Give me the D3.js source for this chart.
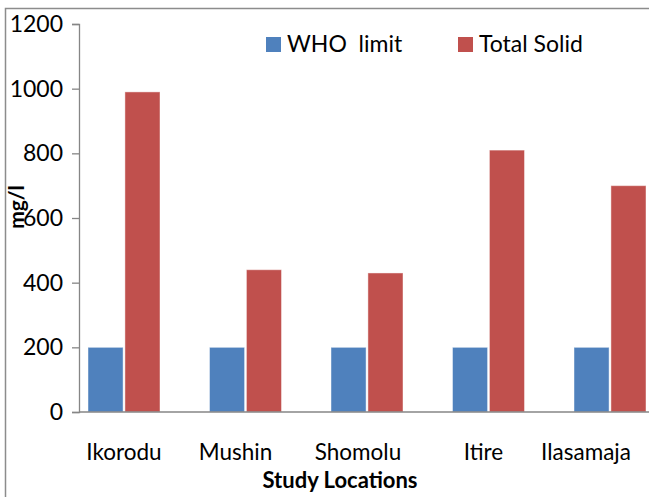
<!DOCTYPE html>
<html>
<head>
<meta charset="utf-8">
<script src="https://cdn.jsdelivr.net/npm/d3@7/dist/d3.min.js"></script>
<style>
  html, body { margin: 0; padding: 0; background: #fff; }
  svg { display: block; font-family: Lato, "Open Sans", sans-serif; }
</style>
</head>
<body>
<svg id="chart" width="649" height="497"></svg>
<script>
// Study locations and measured solids (mg/l)
const locations = ["Ikorodu", "Mushin", "Shomolu", "Itire", "Ilasamaja"];
const seriesNames = ["WHO  limit", "Total Solid"];
const whoLimit = [200, 200, 200, 200, 200];
const totalSolid = [990, 440, 430, 810, 700];
const yTicks = [0, 200, 400, 600, 800, 1000, 1200];

const colors = { "WHO  limit": "#4F81BD", "Total Solid": "#C0504D" };

const svg = d3.select("#chart");

// outer chart frame
svg.append("rect")
  .attr("x", 5.5).attr("y", 8.5)
  .attr("width", 700).attr("height", 600)
  .attr("fill", "none").attr("stroke", "#8c8c8c").attr("stroke-width", 1.5);

const yAxisX = 79;
const y = d3.scaleLinear().domain([0, 1200]).range([412, 24]);

const x = d3.scaleBand().domain(locations).range([63.25, 670.75]).paddingInner(0);
const xSub = d3.scaleBand().domain(seriesNames).range([-36, 36]).paddingInner(0.05);

const rows = locations.map((loc, i) => ({
  loc,
  values: [
    { key: seriesNames[0], value: whoLimit[i] },
    { key: seriesNames[1], value: totalSolid[i] }
  ]
}));

// bars
const groups = svg.append("g").selectAll("g").data(rows).join("g")
  .attr("transform", d => `translate(${x(d.loc) + x.bandwidth() / 2},0)`);
groups.selectAll("rect").data(d => d.values).join("rect")
  .attr("x", d => xSub(d.key))
  .attr("width", xSub.bandwidth())
  .attr("y", d => y(d.value))
  .attr("height", d => y(0) - y(d.value))
  .attr("fill", d => colors[d.key])
  .attr("stroke", "rgba(255,255,255,0.45)")
  .attr("stroke-width", 1);

// y axis
const yAxis = svg.append("g")
  .attr("transform", `translate(${yAxisX},0)`)
  .call(d3.axisLeft(y).tickValues(yTicks).tickSize(7).tickPadding(9).tickFormat(d3.format("d")));
yAxis.select(".domain").attr("stroke", "#868686").attr("stroke-width", 1.3);
yAxis.selectAll(".tick line").attr("stroke", "#868686").attr("stroke-width", 1.3);
yAxis.selectAll(".tick text")
  .attr("fill", "#000").style("font-size", "23px").style("font-family", "Lato, sans-serif");

// x axis: baseline plus category labels
const xAxis = svg.append("g")
  .attr("transform", `translate(0,${y(0)})`)
  .call(d3.axisBottom(x).tickSize(0).tickPadding(32));
xAxis.select(".domain").remove();
svg.append("line")
  .attr("x1", yAxisX).attr("x2", 649)
  .attr("y1", y(0)).attr("y2", y(0))
  .attr("stroke", "#868686").attr("stroke-width", 1.3);
// labels kept inside the frame near the right edge
const labelShift = [0, -10, -9, -5, -24];
xAxis.selectAll(".tick text")
  .attr("fill", "#000").style("font-size", "22.5px").style("font-family", "Lato, sans-serif")
  .attr("dx", (d, i) => labelShift[i]);

// axis titles
svg.append("text")
  .attr("x", 340).attr("y", 488)
  .attr("text-anchor", "middle")
  .style("font-size", "22px").style("font-weight", "bold")
  .text("Study Locations");

svg.append("text")
  .attr("transform", "translate(24,207) rotate(-90)")
  .attr("text-anchor", "middle")
  .style("font-size", "21px").style("font-weight", "bold")
  .text("mg/l");

// legend
const legendPos = [{ sx: 266, tx: 287 }, { sx: 458, tx: 479 }];
const legend = svg.append("g").selectAll("g").data(seriesNames).join("g");
legend.append("rect")
  .attr("x", (d, i) => legendPos[i].sx).attr("y", 37)
  .attr("width", 15).attr("height", 15)
  .attr("fill", d => colors[d]);
legend.append("text")
  .attr("x", (d, i) => legendPos[i].tx).attr("y", 52)
  .style("font-size", "23px").style("white-space", "pre")
  .attr("xml:space", "preserve")
  .text(d => d);
</script>
</body>
</html>
